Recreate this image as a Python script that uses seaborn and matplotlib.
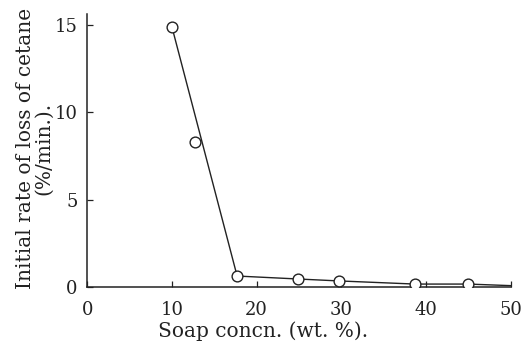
import matplotlib
matplotlib.use("Agg")
import matplotlib.pyplot as plt
import seaborn as sns
import pandas as pd

# Measured points
soap_conc = [10.0, 12.7, 17.7, 24.9, 29.7, 38.7, 45.0]
loss_rate = [14.9, 8.3, 0.63, 0.46, 0.35, 0.17, 0.17]

# Drawn trend line
line_conc = [10.0, 17.7, 24.9, 29.7, 38.7, 45.0, 50.0]
line_rate = [14.9, 0.63, 0.46, 0.35, 0.17, 0.17, 0.08]

x_ticks = [0, 10, 20, 30, 40, 50]
y_ticks = [0, 5, 10, 15]

sns.set_theme(style="ticks")
plt.rcParams["font.family"] = ["DejaVu Serif"]
plt.rcParams["mathtext.fontset"] = "dejavuserif"

pts = pd.DataFrame({"conc": soap_conc, "rate": loss_rate})
trend = pd.DataFrame({"conc": line_conc, "rate": line_rate})

fig = plt.figure(figsize=(5.25, 3.45), dpi=100)
ax = fig.add_axes([0.166, 0.168, 0.815, 0.79])

sns.lineplot(data=trend, x="conc", y="rate", ax=ax, color="#222222",
             linewidth=1.0, sort=False)
sns.scatterplot(data=pts, x="conc", y="rate", ax=ax, s=60, marker="o",
                facecolor="white", edgecolor="#222222", linewidth=1.0,
                zorder=3)

ax.set_xlim(0, 50.5)
ax.set_ylim(0, 15.6)
ax.set_xticks(x_ticks)
ax.set_yticks(y_ticks)
ax.tick_params(axis="x", direction="in", length=4, width=0.9, labelsize=13,
               colors="#222222", pad=10)
ax.tick_params(axis="y", direction="in", length=4, width=0.9, labelsize=13,
               colors="#222222", pad=7)
for side in ["top", "right"]:
    ax.spines[side].set_visible(False)
for side in ["left", "bottom"]:
    ax.spines[side].set_color("#222222")
    ax.spines[side].set_linewidth(1.1)
ax.spines["bottom"].set_bounds(0, 50)

ax.set_xlabel("Soap concn. (wt. %).", fontsize=14.5, color="#222222")
ax.xaxis.set_label_coords(0.412, -0.125)
ax.set_ylabel("Initial rate of loss of cetane\n(%/min.).", fontsize=14.5,
              color="#222222", linespacing=0.9)
ax.yaxis.set_label_coords(-0.08, 0.51)

fig.savefig("out.png", dpi=100, facecolor="white")
